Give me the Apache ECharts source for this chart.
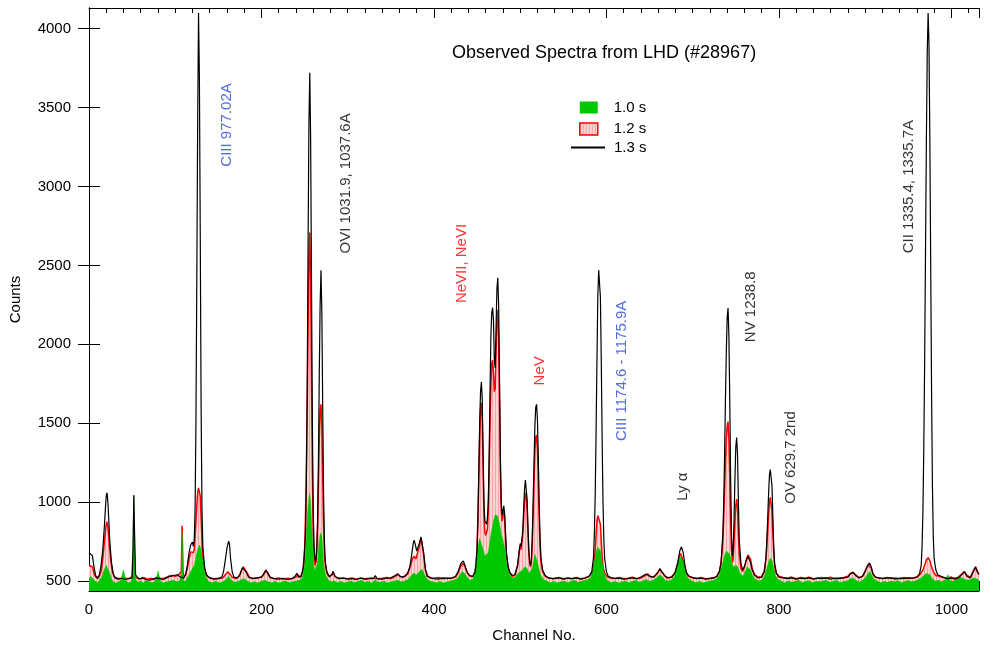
<!DOCTYPE html>
<html>
<head>
<meta charset="utf-8">
<title>Observed Spectra from LHD (#28967)</title>
<script src="https://cdn.jsdelivr.net/npm/echarts@6/dist/echarts.min.js"></script>
<style>
  html, body {margin: 0; padding: 0; background: #fff;}
  #chart {width: 986px; height: 648px;}
</style>
</head>
<body>
<div id="chart"></div>
<script>
// [channel, counts]
const spec10 = [
  [0,515],[2,530],[4,525],[6,505],[8,495],[10,490],[12,500],[14,520],[16,545],[18,575],[20,600],[21,601],[22,590],[24,550],[26,515],[28,495],[31,488],[34,495],[37,505],[39,550],[40,570],[41,545],[43,500],[46,490],[49,495],[51,700],[52,1044],[53,750],[54,510],[57,492],[60,500],[63,488],[66,505],[70,495],[74,490],[78,510],[80,563],[81,540],[83,500],[86,488],[90,495],[94,500],[98,505],[102,495],[105,500],[107,540],[108,806],[109,540],[110,495],[113,510],[116,540],[118,560],[120,580],[122,600],[124,650],[126,700],[128,728],[130,700],[132,620],[134,560],[136,520],[139,495],[143,490],[147,500],[151,488],[155,495],[159,510],[162,530],[165,505],[169,492],[173,498],[177,510],[180,515],[184,498],[188,490],[192,495],[196,488],[200,500],[204,505],[208,495],[212,490],[216,498],[220,488],[224,495],[228,502],[232,490],[236,495],[240,500],[244,505],[247,520],[249,560],[250,600],[251,680],[252,780],[253,880],[254,970],[255,1030],[256,1055],[257,1000],[258,880],[259,760],[260,650],[261,590],[262,560],[263,550],[264,570],[265,620],[266,690],[267,750],[268,790],[269,806],[270,780],[271,700],[272,620],[273,570],[275,530],[278,505],[281,495],[284,502],[288,490],[292,498],[296,488],[300,495],[304,500],[308,490],[312,498],[316,505],[320,492],[324,498],[328,488],[332,510],[334,495],[338,492],[342,500],[346,488],[350,495],[354,500],[358,505],[362,495],[366,500],[370,510],[373,530],[376,550],[378,555],[380,540],[383,560],[386,575],[388,555],[391,520],[395,500],[399,495],[403,490],[407,498],[411,488],[415,495],[419,500],[423,505],[427,515],[430,540],[433,560],[436,545],[439,520],[442,505],[445,510],[447,560],[449,640],[451,720],[453,770],[455,760],[457,700],[459,660],[461,650],[463,680],[465,760],[467,820],[469,880],[471,920],[472,928],[474,910],[476,860],[478,800],[480,760],[482,700],[484,620],[486,570],[488,540],[491,520],[494,525],[497,545],[500,560],[503,570],[505,590],[506,600],[508,580],[510,550],[512,540],[514,580],[516,640],[517,670],[518,660],[520,620],[522,570],[524,535],[527,510],[531,500],[535,490],[539,498],[543,488],[547,495],[551,500],[555,490],[559,498],[563,505],[567,492],[571,498],[575,505],[579,510],[582,525],[584,560],[586,620],[588,680],[590,715],[591,721],[593,690],[595,620],[597,560],[599,520],[602,500],[606,490],[610,498],[614,488],[618,495],[622,500],[626,490],[630,498],[634,505],[638,492],[642,500],[646,510],[650,498],[654,505],[658,520],[662,540],[665,525],[668,505],[672,500],[676,510],[679,530],[681,580],[683,630],[685,655],[687,658],[689,630],[691,570],[693,530],[696,510],[700,498],[704,490],[708,498],[712,488],[716,495],[720,500],[724,505],[728,515],[731,540],[734,600],[737,660],[739,690],[741,700],[743,670],[745,620],[747,590],[749,595],[751,600],[753,580],[755,550],[758,530],[761,560],[763,590],[765,595],[767,570],[770,530],[773,510],[777,500],[780,505],[783,530],[786,580],[788,620],[790,645],[792,630],[794,580],[796,535],[799,510],[803,498],[807,490],[811,500],[815,492],[819,498],[823,505],[827,490],[831,498],[835,502],[839,490],[843,498],[847,495],[851,500],[855,505],[859,492],[863,498],[867,505],[871,490],[875,498],[879,500],[883,515],[886,520],[889,505],[893,495],[897,505],[900,520],[903,545],[905,560],[907,545],[910,515],[914,500],[918,490],[922,498],[926,492],[930,500],[934,495],[938,502],[942,490],[946,498],[950,505],[954,495],[958,500],[962,510],[965,520],[968,535],[971,548],[973,553],[975,540],[978,515],[981,500],[985,505],[989,495],[993,510],[996,540],[998,505],[1002,498],[1006,510],[1010,525],[1014,515],[1018,505],[1022,510],[1026,520],[1029,515],[1032,505]
];

const spec12 = [
  [0,600],[2,605],[4,590],[6,545],[8,525],[10,520],[12,530],[14,560],[16,640],[18,760],[20,860],[21,875],[22,840],[23,770],[25,640],[27,560],[29,530],[32,520],[36,515],[40,525],[44,515],[48,520],[52,540],[55,520],[60,515],[64,522],[68,512],[72,518],[76,510],[80,530],[83,515],[88,520],[92,530],[96,535],[100,530],[104,540],[106,530],[107,560],[108,850],[109,560],[110,525],[112,540],[114,580],[116,640],[118,685],[120,696],[121,680],[122,700],[123,780],[124,880],[125,980],[126,1060],[127,1090],[128,1093],[129,1040],[130,900],[131,760],[132,650],[134,570],[137,530],[140,520],[145,515],[150,518],[155,520],[158,540],[161,559],[163,550],[166,525],[170,515],[174,530],[177,570],[179,590],[181,585],[183,555],[186,525],[190,518],[195,520],[200,525],[203,545],[205,565],[207,550],[210,522],[215,515],[220,520],[225,512],[230,518],[235,515],[240,525],[242,540],[245,525],[248,560],[250,700],[251,900],[252,1200],[253,1600],[254,2100],[255,2550],[256,2709],[257,2400],[258,1800],[259,1200],[260,820],[261,650],[262,600],[263,620],[264,700],[265,850],[266,1100],[267,1400],[268,1580],[269,1620],[270,1480],[271,1150],[272,850],[273,670],[275,570],[278,530],[282,540],[283,555],[286,525],[290,518],[295,520],[300,515],[305,520],[310,512],[315,520],[320,515],[325,518],[330,520],[335,515],[340,518],[345,522],[350,515],[355,530],[358,540],[362,525],[366,530],[370,550],[373,600],[375,640],[377,658],[379,640],[381,650],[383,720],[385,772],[386,760],[388,670],[390,570],[393,530],[397,520],[400,518],[405,522],[410,515],[415,520],[420,518],[425,525],[428,550],[431,595],[434,612],[436,590],[439,550],[442,530],[446,530],[449,600],[450,720],[451,900],[452,1150],[453,1400],[454,1590],[455,1630],[456,1520],[457,1200],[458,920],[459,810],[460,790],[461,780],[462,830],[463,950],[464,1200],[465,1500],[466,1750],[467,1880],[468,1900],[469,1820],[470,1700],[471,1720],[472,1950],[473,2150],[474,2217],[475,2050],[476,1650],[477,1200],[478,950],[479,880],[480,910],[481,950],[482,900],[483,780],[484,670],[486,585],[488,550],[491,530],[494,540],[497,600],[499,690],[500,720],[501,700],[502,710],[503,790],[504,900],[505,1010],[506,1060],[507,1040],[508,950],[509,800],[510,680],[511,610],[512,590],[513,620],[514,740],[515,920],[516,1120],[517,1320],[518,1410],[519,1425],[520,1340],[521,1130],[522,900],[523,720],[524,620],[526,560],[529,530],[533,520],[538,515],[545,522],[550,515],[555,520],[560,515],[565,522],[570,515],[575,520],[580,530],[584,560],[586,620],[587,700],[588,800],[589,880],[590,915],[591,918],[592,910],[593,860],[594,760],[595,660],[596,590],[598,550],[601,525],[605,520],[610,518],[615,522],[620,515],[625,518],[630,525],[635,515],[640,520],[645,535],[648,545],[652,525],[656,530],[660,555],[662,575],[664,570],[667,540],[670,520],[675,525],[679,545],[682,600],[684,650],[686,675],[688,665],[690,610],[692,560],[695,530],[700,522],[705,518],[710,522],[715,515],[720,518],[725,522],[728,530],[731,560],[733,620],[735,760],[736,900],[737,1080],[738,1260],[739,1400],[740,1480],[741,1510],[742,1400],[743,1150],[744,880],[745,700],[746,620],[747,640],[748,760],[749,880],[750,980],[751,1020],[752,960],[753,800],[754,670],[756,580],[758,560],[760,590],[762,630],[764,665],[765,671],[767,640],[769,580],[772,540],[776,525],[780,528],[783,560],[785,640],[786,720],[787,820],[788,920],[789,1000],[790,1030],[791,1020],[792,940],[793,800],[794,680],[795,600],[797,550],[800,530],[805,522],[810,520],[815,525],[820,515],[825,522],[830,518],[835,525],[840,515],[845,520],[850,522],[855,518],[860,525],[865,515],[870,520],[875,522],[880,530],[883,550],[886,555],[889,540],[893,522],[897,530],[900,565],[903,600],[905,607],[907,585],[909,545],[912,525],[916,520],[920,518],[925,522],[930,518],[935,520],[940,515],[945,522],[950,518],[955,520],[960,525],[964,545],[967,570],[969,600],[971,635],[973,648],[975,630],[977,590],[979,560],[982,535],[986,530],[990,522],[995,520],[1000,525],[1004,518],[1008,525],[1012,545],[1015,560],[1018,535],[1022,525],[1025,560],[1028,590],[1030,560],[1032,540]
];

const spec13 = [
  [0,680],[2,690],[4,660],[6,580],[8,530],[10,515],[12,540],[14,600],[16,700],[18,860],[19,960],[20,1040],[21,1060],[22,990],[23,880],[24,760],[26,620],[28,550],[30,520],[34,512],[38,518],[42,510],[46,515],[50,520],[51,700],[52,1044],[53,760],[54,540],[58,512],[62,520],[66,510],[70,505],[74,512],[78,520],[82,515],[86,510],[90,520],[94,530],[98,535],[102,540],[106,525],[110,520],[112,540],[114,600],[116,680],[118,730],[120,747],[121,720],[122,760],[123,950],[124,1500],[125,2400],[126,3400],[127,4100],[128,3700],[129,2700],[130,1600],[131,950],[132,720],[134,590],[136,540],[140,520],[145,512],[150,515],[154,525],[156,560],[158,630],[160,710],[162,753],[163,730],[164,650],[166,560],[168,525],[172,520],[175,540],[178,585],[180,590],[182,560],[185,525],[190,515],[195,520],[200,525],[203,550],[205,570],[207,555],[210,525],[215,515],[220,512],[225,518],[230,510],[235,515],[239,530],[241,550],[243,525],[246,530],[249,600],[251,800],[252,1100],[253,1700],[254,2600],[255,3400],[256,3720],[257,3300],[258,2400],[259,1500],[260,950],[261,720],[262,640],[263,620],[264,680],[265,850],[266,1250],[267,1800],[268,2250],[269,2470],[270,2200],[271,1600],[272,1050],[273,750],[274,620],[276,550],[279,525],[282,545],[283,563],[285,530],[290,515],[295,518],[300,512],[305,515],[310,510],[315,518],[320,512],[325,515],[330,515],[332,535],[334,515],[340,512],[345,518],[350,520],[355,535],[358,547],[361,530],[365,525],[369,545],[372,590],[374,660],[376,740],[377,759],[378,740],[380,690],[381,690],[383,740],[385,780],[386,770],[388,680],[390,580],[392,530],[396,520],[400,515],[405,512],[410,520],[415,515],[420,518],[425,530],[428,560],[431,610],[434,628],[436,600],[438,560],[441,535],[445,530],[448,560],[450,700],[451,900],[452,1200],[453,1500],[454,1700],[455,1761],[456,1650],[457,1300],[458,1000],[459,880],[460,875],[461,860],[462,900],[463,1000],[464,1300],[465,1700],[466,2050],[467,2200],[468,2232],[469,2150],[470,1900],[471,1850],[472,2100],[473,2350],[474,2422],[475,2250],[476,1800],[477,1300],[478,1000],[479,920],[480,950],[481,977],[482,920],[483,800],[484,680],[486,590],[488,555],[491,535],[494,540],[497,600],[499,700],[500,738],[501,720],[502,730],[503,820],[504,950],[505,1080],[506,1140],[507,1130],[508,1020],[509,850],[510,700],[511,620],[512,600],[513,640],[514,780],[515,1000],[516,1250],[517,1480],[518,1600],[519,1620],[520,1520],[521,1280],[522,1000],[523,780],[524,650],[526,570],[529,535],[533,520],[538,515],[545,520],[550,512],[555,518],[560,515],[565,520],[570,512],[575,518],[580,530],[583,560],[585,650],[586,800],[587,1050],[588,1450],[589,1900],[590,2300],[591,2470],[592,2475],[593,2300],[594,1900],[595,1400],[596,1000],[597,760],[598,640],[600,560],[602,530],[606,520],[610,515],[615,518],[620,512],[625,515],[630,520],[635,515],[640,525],[646,545],[650,530],[655,525],[660,560],[662,580],[664,560],[668,530],[672,520],[676,525],[680,560],[683,620],[685,690],[687,717],[689,680],[691,600],[693,550],[696,530],[700,520],[705,515],[710,518],[715,512],[720,515],[725,520],[728,530],[731,560],[733,620],[735,800],[736,1000],[737,1300],[738,1650],[739,1950],[740,2170],[741,2230],[742,2050],[743,1650],[744,1150],[745,800],[746,660],[747,700],[748,900],[749,1150],[750,1350],[751,1410],[752,1300],[753,1000],[754,760],[756,610],[758,570],[760,590],[762,630],[764,655],[765,660],[767,620],[769,570],[772,535],[776,520],[780,525],[783,560],[785,650],[786,760],[787,900],[788,1050],[789,1170],[790,1207],[791,1200],[792,1100],[793,900],[794,720],[795,610],[797,550],[800,525],[805,520],[810,515],[815,520],[820,512],[825,518],[830,515],[835,520],[840,512],[845,518],[850,515],[855,520],[860,512],[865,518],[870,515],[875,520],[880,525],[883,545],[886,555],[889,535],[893,520],[897,530],[900,560],[903,600],[905,615],[907,590],[909,545],[912,525],[916,520],[920,515],[925,518],[930,520],[935,512],[940,518],[945,515],[950,520],[955,518],[960,525],[963,545],[965,600],[966,720],[967,950],[968,1350],[969,1900],[970,2600],[971,3300],[972,3850],[973,4100],[974,3900],[975,3300],[976,2500],[977,1700],[978,1100],[979,780],[980,640],[982,570],[984,540],[986,550],[988,530],[992,520],[996,515],[1000,518],[1004,512],[1008,520],[1012,540],[1015,560],[1018,530],[1022,520],[1025,555],[1028,590],[1030,560],[1032,545]
];

const countTicks = [500, 1000, 1500, 2000, 2500, 3000, 3500, 4000];

// line identifications: text, channel, counts (centre of the label), colour
const lineLabels = [
  ['CIII 977.02A', 160, 3390, '#2446dc'],
  ['OVI 1031.9, 1037.6A', 298, 3020, '#000'],
  ['NeVII, NeVI', 432, 2512, '#ff0000'],
  ['NeV', 523, 1832, '#ff0000'],
  ['CIII 1174.6 - 1175.9A', 618, 1832, '#2446dc'],
  ['Ly \u03b1', 689, 1098, '#000'],
  ['NV 1238.8', 768, 2238, '#000'],
  ['OV 629.7 2nd', 814, 1283, '#000'],
  ['CII 1335.4, 1335.7A', 951, 2999, '#000']
];

const font = 'Liberation Sans, Arial, Helvetica, sans-serif';

// light pink with thin vertical stripes for the 1.2 s fill
function hatch() {
  const c = document.createElement('canvas');
  c.width = 3; c.height = 6;
  const ctx = c.getContext('2d');
  ctx.fillStyle = '#fcd4d4';
  ctx.fillRect(0, 0, 3, 6);
  ctx.fillStyle = '#f5a5a5';
  ctx.fillRect(0, 0, 1, 6);
  return c;
}
const pink = {image: hatch(), repeat: 'repeat'};

const plain = v => String(v);

const chart = echarts.init(document.getElementById('chart'), null, {renderer: 'canvas'});

const xCommon = {
  type: 'value', min: 0, max: 1032, interval: 200,
  axisLine: {lineStyle: {color: '#000', width: 1}},
  axisTick: {inside: true, length: 10, lineStyle: {color: '#000'}},
  minorTick: {show: true, splitNumber: 10, length: 5, lineStyle: {color: '#000'}},
  splitLine: {show: false}
};
const yCommon = {
  type: 'value', min: 437, max: 4131,
  axisLine: {show: true, lineStyle: {color: '#000', width: 1}},
  axisTick: {show: true, inside: true, length: 11, customValues: countTicks, lineStyle: {color: '#000'}},
  splitLine: {show: false}
};

chart.setOption({
  animation: false,
  backgroundColor: '#fff',
  textStyle: {fontFamily: font},
  title: {
    text: 'Observed Spectra from LHD (#28967)',
    left: 452, top: 44, padding: 0,
    textStyle: {fontSize: 18, fontWeight: 'normal', color: '#000', fontFamily: font}
  },
  legend: [{
    orient: 'vertical', left: 579, top: 100, padding: 0,
    itemWidth: 18, itemHeight: 12, itemGap: 6.5,
    textStyle: {fontSize: 15, color: '#000', padding: [0, 0, 0, 11], fontFamily: font},
    data: [
      {name: '1.0 s', icon: 'rect', itemStyle: {color: '#00c800', borderWidth: 0}},
      {name: '1.2 s', icon: 'rect', itemStyle: {color: pink, borderColor: '#ff0000', borderWidth: 1.5}}
    ]
  }, {
    orient: 'vertical', left: 571, top: 140, padding: 0,
    itemWidth: 34, itemHeight: 2,
    textStyle: {fontSize: 15, color: '#000', padding: [0, 0, 0, 4], fontFamily: font},
    data: [{name: '1.3 s', icon: 'rect', itemStyle: {color: '#000'}}]
  }],
  grid: {left: 89, right: 7, top: 8, bottom: 57, outerBoundsMode: 'none', containLabel: false},
  xAxis: [
    Object.assign({}, xCommon, {
      position: 'bottom',
      name: 'Channel No.', nameLocation: 'middle', nameGap: 37,
      nameTextStyle: {fontSize: 15, color: '#000', fontFamily: font},
      axisLabel: {fontSize: 15, color: '#000', margin: 11, showMaxLabel: false, formatter: plain, fontFamily: font}
    }),
    Object.assign({}, xCommon, {position: 'top', axisLabel: {show: false}})
  ],
  yAxis: [
    Object.assign({}, yCommon, {
      position: 'left',
      name: 'Counts', nameLocation: 'middle', nameGap: 66,
      nameTextStyle: {fontSize: 15, color: '#000', fontFamily: font},
      axisLabel: {fontSize: 15, color: '#000', margin: 18, customValues: countTicks, formatter: plain, fontFamily: font}
    }),
    Object.assign({}, yCommon, {position: 'right', axisLabel: {show: false}})
  ],
  series: [{
    name: '1.2 s', type: 'line', data: spec12, z: 1,
    symbol: 'none', showSymbol: false,
    lineStyle: {color: '#ff0000', width: 1.5},
    itemStyle: {color: '#ff0000'},
    areaStyle: {color: pink, origin: 'start', opacity: 1}
  }, {
    name: '1.0 s', type: 'line', data: spec10, z: 2,
    symbol: 'none', showSymbol: false,
    lineStyle: {color: '#00c800', width: 0.5},
    itemStyle: {color: '#00c800'},
    areaStyle: {color: '#00c800', origin: 'start', opacity: 1}
  }, {
    name: '1.3 s', type: 'line', data: spec13, z: 3,
    symbol: 'none', showSymbol: false,
    lineStyle: {color: '#000', width: 1.2},
    itemStyle: {color: '#000'}
  }, {
    // line identification labels
    type: 'scatter', z: 4, symbolSize: 0, silent: true,
    data: lineLabels.map(l => ({
      name: l[0], value: [l[1], l[2]],
      label: {color: l[3]}
    })),
    label: {
      show: true, formatter: p => p.name, rotate: 90,
      position: 'inside', align: 'center', verticalAlign: 'middle',
      fontSize: 15, fontFamily: font
    }
  }]
});
</script>
</body>
</html>
